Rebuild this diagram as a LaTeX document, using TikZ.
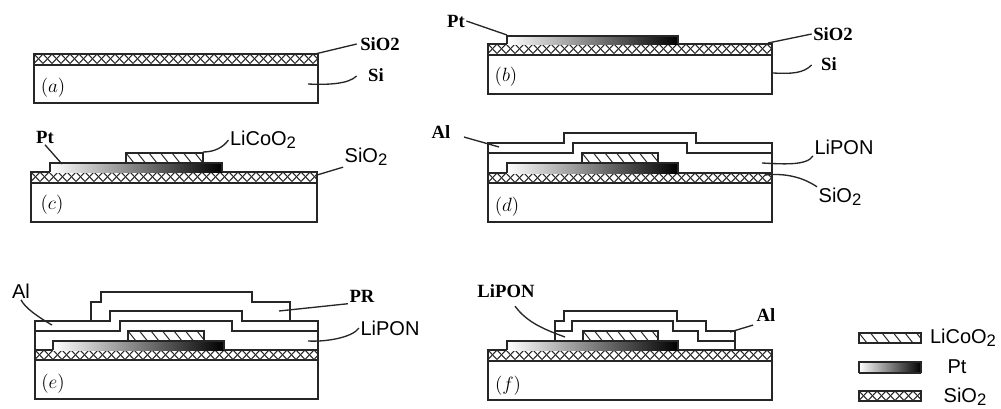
\documentclass[tikz,border=0pt]{standalone}
\usepackage{fontspec}
\setsansfont{Liberation Sans}
\newfontfamily\seriffam{Liberation Serif}
\newcommand{\lowtwo}{\raisebox{-0.25ex}{\fontsize{12.5}{12.5}\selectfont 2}}
\tikzset{
    edge/.style={line width=1.35pt,draw=black!85,line join=miter},
    thin line/.style={line width=0.75pt,draw=black!85},
    leader/.style={line width=1pt,draw=black!85},
    sanslabel/.style={inner sep=1pt,font=\sffamily\fontsize{15}{15}\selectfont},
    seriflabel/.style={inner sep=1pt,font=\seriffam\bfseries\fontsize{14}{14}\selectfont},
    panellabel/.style={inner sep=0pt,font=\fontsize{13.5}{13.5}\selectfont}
}
% #1 left, #2 right, #3 top, #4 bottom
\newcommand{\oxide}[4]{
    \begin{scope}
        \clip (#1,#3) rectangle (#2,#4);
        \foreach \k in {-1,0,...,33} {
            \draw[thin line] ({#1+\k*9},#3) -- ++(9,9.5);
            \draw[thin line] ({#1+\k*9+9},#3) -- ++(-9,9.5);
        }
    \end{scope}
    \draw[edge] (#1,#3) rectangle (#2,#4);
}
\newcommand{\cathode}[4]{
    \begin{scope}
        \clip (#1,#3) rectangle (#2,#4);
        \foreach \k in {-1,0,...,7} {
            \draw[thin line] ({#1+\k*11.5},#3) -- ++(8,10);
        }
    \end{scope}
    \draw[edge] (#1,#3) rectangle (#2,#4);
}
\newcommand{\platinum}[4]{
    \shade[left color=white,right color=black] (#1,#3) rectangle (#2,#4);
    \draw[edge] (#1,#4) -- (#1,#3) -- (#2,#3) -- (#2,#4);
}
% #1 left, #2 right, #3 oxide top, #4 oxide bottom, #5 substrate bottom
\newcommand{\wafer}[5]{
    \oxide{#1}{#2}{#3}{#4}
    \draw[edge] (#1,#4) rectangle (#2,#5);
}
\begin{document}
\begin{tikzpicture}[x=0.75pt,y=-0.75pt]
    \useasboundingbox (0,0) rectangle (1001,408);

    % (a)
    \wafer{34}{318}{54}{65}{103}
    \node[panellabel] (pa) at (53,88) {$(a)$};
    \node[seriflabel] (asio) at (380,44) {SiO2};
    \node[seriflabel] (asi) at (376,75) {Si};
    \coordinate (asioend) at (315,54);
    \coordinate (asiend) at (308,84);
    \draw[leader] ([shift={(-2,0)}]asio.west) -- (asioend);
    \draw[leader] ([shift={(-10,1)}]asi.west) .. controls +(-8,8) and +(20,1) .. (asiend);

    % (b)
    \wafer{488}{772}{44}{55}{94}
    \platinum{507}{678}{36}{44}
    \node[panellabel] (pb) at (506,77) {$(b)$};
    \node[seriflabel] (bpt) at (456,21) {Pt};
    \node[seriflabel] (bsio) at (833,34) {SiO2};
    \node[seriflabel] (bsi) at (829,64) {Si};
    \coordinate (bptend) at (507,35);
    \coordinate (bsioend) at (768,43);
    \coordinate (bsiend) at (773,73);
    \draw[leader] (bpt.east) -- (bptend);
    \draw[leader] (bsio.west) -- (bsioend);
    \draw[leader] ([shift={(-8,1)}]bsi.west) .. controls +(-8,8) and +(20,1) .. (bsiend);

    % (c)
    \wafer{31}{317}{172}{183}{222}
    \platinum{50}{222}{163}{172}
    \cathode{126}{203}{153}{163}
    \node[panellabel] (pc) at (52,205) {$(c)$};
    \node[seriflabel] (cpt) at (45,137) {Pt};
    \node[sanslabel] (clico) at (263,140) {LiCoO\lowtwo};
    \node[sanslabel] (csio) at (366,157) {SiO\lowtwo};
    \coordinate (cptend) at (62,164);
    \coordinate (clicoend) at (203,152);
    \coordinate (csioend) at (317,175);
    \draw[leader] (cpt.south) -- (cptend);
    \draw[leader] (clico.west) .. controls +(-5,7) and +(12,0) .. (clicoend);
    \draw[leader] (csio.south west) -- (csioend);

    % (d)
    \wafer{488}{772}{173}{183}{222}
    \platinum{507}{678}{163}{173}
    \cathode{582}{658}{153}{163}
    \draw[edge] (488,173) -- (488,143) -- (564,143) -- (564,133) -- (696,133) -- (696,143) -- (772,143) -- (772,173);
    \draw[edge] (488,153) -- (573,153) -- (573,143) -- (687,143) -- (687,153) -- (772,153);
    \node[panellabel] (pd) at (507,207) {$(d)$};
    \node[seriflabel] (dal) at (441,132) {Al};
    \node[sanslabel] (dlipon) at (844,147) {LiPON};
    \node[sanslabel] (dsio) at (840,197) {SiO\lowtwo};
    \coordinate (dalend) at (499,147);
    \coordinate (dliponend) at (762,163);
    \coordinate (dsioend) at (765,175);
    \draw[leader] ([shift={(12,5)}]dal.east) -- (dalend);
    \draw[leader] (dlipon.south west) .. controls +(-6,10) and +(20,1) .. (dliponend);
    \draw[leader] (dsio.north west) .. controls +(-15,-10) and +(20,-2) .. (dsioend);

    % (e)
    \wafer{35}{318}{350}{360}{399}
    \platinum{53}{224}{341}{350}
    \cathode{128}{204}{331}{341}
    \draw[edge] (35,350) -- (35,321) -- (110,321) -- (110,311) -- (242,311) -- (242,321) -- (318,321) -- (318,350);
    \draw[edge] (35,331) -- (120,331) -- (120,321) -- (232,321) -- (232,331) -- (318,331);
    \draw[edge] (91,321) -- (91,302) -- (101,302) -- (101,292) -- (252,292) -- (252,302) -- (290,302) -- (290,321);
    \node[panellabel] (pe) at (53,384) {$(e)$};
    \node[sanslabel] (eal) at (21,291) {Al};
    \node[seriflabel] (epr) at (362,296) {PR};
    \node[sanslabel] (elipon) at (390,328) {LiPON};
    \coordinate (ealend) at (52,325);
    \coordinate (eprend) at (279,311);
    \coordinate (eliponend) at (308,341);
    \draw[leader] (eal.south) .. controls +(4,8) and +(-14,-8) .. (ealend);
    \draw[leader] (epr.south west) -- (eprend);
    \draw[leader] (elipon.west) .. controls +(-6,9) and +(20,1) .. (eliponend);

    % (f)
    \wafer{488}{772}{350}{361}{400}
    \platinum{507}{678}{341}{350}
    \cathode{583}{658}{331}{341}
    \draw[edge] (555,341) -- (555,321) -- (564,321) -- (564,311) -- (677,311) -- (677,321) -- (706,321) -- (706,331) -- (735,331) -- (735,350);
    \draw[edge] (555,331) -- (572,331) -- (572,321) -- (673,321) -- (673,331) -- (698,331) -- (698,341) -- (735,341);
    \node[panellabel] (pf) at (508,386) {$(f)$};
    \node[seriflabel] (flipon) at (506,291) {LiPON};
    \node[seriflabel] (fal) at (766,315) {Al};
    \coordinate (fliponend) at (565,337);
    \coordinate (falend) at (730,332);
    \draw[leader] ([shift={(9,7)}]flipon.south) .. controls +(12,16) and +(-22,-8) .. (fliponend);
    \draw[leader] ([shift={(-2,2)}]fal.south west) -- (falend);

    % legend
    \cathode{859}{921}{333}{343}
    \platinum{859}{921}{362}{373}
    \draw[edge] (859,373) -- (921,373);
    \oxide{859}{921}{391}{401}
    \node[sanslabel] (keylico) at (963,338) {LiCoO\lowtwo};
    \node[sanslabel] (keypt) at (957,367) {Pt};
    \node[sanslabel] (keysio) at (965,397) {SiO\lowtwo};
\end{tikzpicture}
\end{document}
